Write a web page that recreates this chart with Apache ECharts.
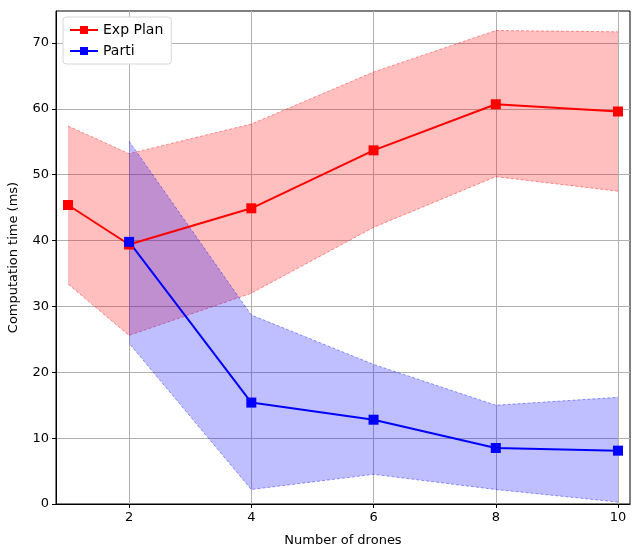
<!DOCTYPE html>
<html>
<head>
<meta charset="utf-8">
<script src="https://cdn.jsdelivr.net/npm/echarts@6/dist/echarts.min.js"></script>
<style>
  html, body { margin: 0; padding: 0; background: #fff; }
  #chart { width: 641px; height: 549px; }
</style>
</head>
<body>
<div id="chart"></div>
<script>
  // data
  const expX = [1, 2, 4, 6, 8, 10];
  const expMean = [45.4, 39.4, 44.9, 53.7, 60.7, 59.6];
  const expUpper = [57.4, 53.2, 57.7, 65.6, 71.9, 71.7];
  const expLower = [33.4, 25.6, 32.0, 42.0, 49.7, 47.5];

  const partiX = [2, 4, 6, 8, 10];
  const partiMean = [39.8, 15.4, 12.8, 8.5, 8.1];
  const partiUpper = [55.1, 28.7, 21.2, 15.0, 16.2];
  const partiLower = [24.4, 2.2, 4.5, 2.2, 0.3];

  const xTicks = [2, 4, 6, 8, 10];
  const yTicks = [0, 10, 20, 30, 40, 50, 60, 70];

  const font = 'DejaVu Sans';

  // fill_between as a custom polygon, points go through the axis scales
  function band(name, xs, upper, lower, color) {
    const data = xs.map((x, i) => [x, upper[i], lower[i]]);
    return {
      name: name + ' band',
      type: 'custom',
      silent: true,
      z: 1,
      data: data,
      encode: { x: 0, y: [1, 2] },
      renderItem: (params, api) => {
        if (params.dataIndex !== 0) return;
        const top = data.map(d => api.coord([d[0], d[1]]));
        const bot = data.map(d => api.coord([d[0], d[2]])).reverse();
        return {
          type: 'group',
          children: [
            {
              type: 'polygon',
              shape: { points: top.concat(bot) },
              style: { fill: color, opacity: 0.25 }
            },
            {
              type: 'polyline',
              shape: { points: top },
              style: { stroke: color, lineWidth: 0.8, lineDash: [3, 2], opacity: 0.5, fill: null }
            },
            {
              type: 'polyline',
              shape: { points: bot },
              style: { stroke: color, lineWidth: 0.8, lineDash: [3, 2], opacity: 0.5, fill: null }
            }
          ]
        };
      }
    };
  }

  function meanLine(name, xs, ys, color) {
    return {
      name: name,
      type: 'line',
      z: 3,
      data: xs.map((x, i) => [x, ys[i]]),
      symbol: 'rect',
      symbolSize: 10,
      itemStyle: { color: color },
      lineStyle: { color: color, width: 2 },
      animation: false
    };
  }

  const chart = echarts.init(document.getElementById('chart'));
  chart.setOption({
    animation: false,
    grid: {
      left: 56, right: 11, top: 11, bottom: 45,
      containLabel: false, outerBoundsMode: 'none',
      show: true, borderColor: '#000', borderWidth: 1, backgroundColor: 'transparent'
    },
    legend: {
      left: 63, top: 17,
      orient: 'vertical',
      data: ['Exp Plan', 'Parti'],
      itemWidth: 28, itemHeight: 10, itemGap: 7,
      backgroundColor: '#fff',
      borderColor: '#d6d6d6', borderWidth: 1, borderRadius: 3,
      padding: [6, 8, 6, 6],
      textStyle: { fontFamily: font, fontSize: 14, color: '#000' }
    },
    xAxis: {
      type: 'value',
      min: 0.804, max: 10.196,
      name: 'Number of drones',
      nameLocation: 'middle', nameGap: 30,
      nameTextStyle: { fontFamily: font, fontSize: 13, color: '#000' },
      axisLine: { lineStyle: { color: '#000', width: 1 } },
      axisTick: { show: true, length: 4, lineStyle: { color: '#000' }, customValues: xTicks },
      axisLabel: { fontFamily: font, fontSize: 13, color: '#000', margin: 7, customValues: xTicks },
      splitLine: { show: true, lineStyle: { color: '#b0b0b0', width: 1 } }
    },
    yAxis: {
      type: 'value',
      min: 0, max: 74.86,
      name: 'Computation time (ms)',
      nameLocation: 'middle', nameGap: 36,
      nameTextStyle: { fontFamily: font, fontSize: 13, color: '#000' },
      axisLine: { show: true, lineStyle: { color: '#000', width: 1 } },
      axisTick: { show: true, length: 4, lineStyle: { color: '#000' }, customValues: yTicks },
      axisLabel: { fontFamily: font, fontSize: 13, color: '#000', margin: 7, customValues: yTicks },
      splitLine: { show: true, lineStyle: { color: '#b0b0b0', width: 1 } }
    },
    series: [
      band('Exp Plan', expX, expUpper, expLower, '#ff0000'),
      band('Parti', partiX, partiUpper, partiLower, '#0000ff'),
      meanLine('Exp Plan', expX, expMean, '#ff0000'),
      meanLine('Parti', partiX, partiMean, '#0000ff')
    ]
  });
</script>
</body>
</html>
